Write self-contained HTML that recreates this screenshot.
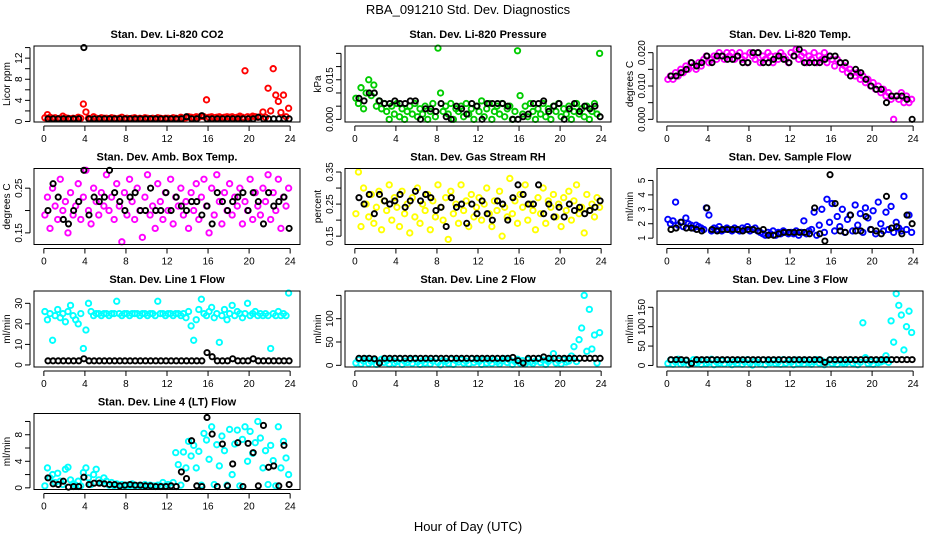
<!DOCTYPE html>
<html><head><meta charset="utf-8"><style>
html,body{margin:0;padding:0;background:#fff}
svg{display:block;font-family:"Liberation Sans",sans-serif}
</style></head><body>
<svg id="chart" width="936" height="540" viewBox="0 0 936 540">
<text x="468" y="14" text-anchor="middle" font-size="13">RBA_091210  Std. Dev. Diagnostics</text>
<text x="468" y="531" text-anchor="middle" font-size="13">Hour of Day (UTC)</text>
</svg>
<script>
const xTicks = [0,4,8,12,16,20,24];
const co2Color = [0.7,1.3,0.8,0.6,0.7,0.5,0.6,1.0,0.7,0.6,0.5,0.6, 0.5,0.8,0.6,3.3,1.8,0.6,0.5,0.9,0.6,0.5,0.7,0.6, 0.6,0.5,0.7,0.6,0.5,0.6,0.8,0.5,0.6,0.5,0.6,0.7, 0.5,0.6,0.5,0.7,0.6,0.5,0.6,0.5,0.7,0.6,0.5,0.6, 0.6,0.5,0.7,0.6,0.5,0.8,0.6,0.7,0.9,0.8,0.7,0.9, 0.8,1.0,0.9,4.1,0.8,0.9,0.7,0.8,0.9,0.7,0.8,0.9, 0.8,0.9,0.7,0.8,1.0,0.8,9.6,0.9,0.8,1.0,0.9,0.8, 0.9,1.8,0.8,6.3,2.0,10.0,5.0,3.8,1.7,5.0,0.9,2.5];
const co2Black = [0.5,0.5,0.5,0.5,0.5,0.5,0.5,14,0.5,0.5,0.5,0.5, 0.5,0.5,0.5,0.5,0.5,0.5,0.5,0.5,0.5,0.5,0.5,0.5, 0.5,0.5,0.5,0.9,0.5,0.5,1.1,0.5,0.5,0.5,0.5,0.5, 0.5,0.5,0.5,0.5,0.5,0.8,0.5,0.5,0.5,0.5,0.5,0.5];
const presColor = [.008,.006,.012,.004,.010,.015,.009,.013,.005,.007,.004,.006, .003,.000,.005,.002,.006,.001,.004,.000,.003,.005,.002,.006, .001,.004,.002,.005,.000,.003,.006,.001,.027,.010,.003,.005, .002,.006,.000,.004,.003,.005,.001,.006,.002,.004,.000,.005, .003,.007,.001,.004,.006,.000,.003,.005,.002,.006,.001,.004, .005,.000,.003,.026,.009,.002,.005,.001,.006,.003,.000,.004, .002,.006,.001,.004,.000,.005,.003,.006,.001,.004,.002,.005, .000,.003,.006,.002,.004,.001,.005,.000,.003,.006,.002,.025];
const presBlack = [.008,.007,.010,.010,.007,.006,.006,.007,.006,.006,.007,.007, .000,.004,.004,.003,.006,.001,.000,.005,.004,.002,.006,.005, .000,.006,.006,.006,.006,.005,.000,.000,.001,.002,.006,.006, .007,.003,.005,.006,.000,.004,.006,.003,.005,.004,.005,.001];
const tempColor = [.012,.013,.012,.014,.013,.015,.014,.016,.015,.017,.016,.015, .017,.016,.018,.019,.017,.018,.019,.018,.020,.019,.018,.020, .019,.020,.018,.019,.020,.018,.019,.017,.020,.019,.018,.020, .017,.019,.018,.020,.019,.017,.019,.018,.020,.019,.018,.017, .020,.019,.021,.018,.019,.020,.017,.019,.018,.020,.017,.019, .018,.020,.017,.019,.018,.016,.018,.017,.015,.016,.014,.015, .014,.013,.014,.012,.013,.011,.012,.010,.011,.009,.010,.008, .009,.007,.008,.006,.000,.007,.006,.008,.005,.007,.005,.006];
const tempBlack = [.013,.013,.014,.015,.017,.016,.017,.019,.017,.019,.019,.018, .018,.019,.017,.017,.020,.020,.017,.017,.018,.019,.018,.017, .019,.021,.017,.017,.017,.017,.018,.019,.019,.017,.017,.013, .015,.014,.012,.010,.009,.009,.005,.007,.007,.007,.006,.000];
const ambColor = [.19,.23,.16,.25,.21,.18,.27,.20,.22,.15,.24,.19, .21,.26,.18,.23,.29,.20,.17,.25,.22,.19,.24,.21, .28,.20,.23,.18,.26,.21,.13,.24,.19,.27,.22,.18, .25,.20,.14,.23,.28,.19,.21,.16,.26,.22,.18,.24, .20,.27,.17,.23,.21,.25,.19,.22,.16,.24,.20,.26, .18,.23,.27,.21,.15,.25,.19,.28,.22,.17,.24,.20, .26,.19,.23,.21,.25,.17,.22,.20,.27,.18,.24,.21, .19,.25,.22,.28,.18,.24,.20,.27,.16,.23,.21,.25];
const ambBlack = [.20,.26,.23,.18,.17,.20,.22,.29,.19,.23,.22,.23, .29,.24,.22,.20,.23,.24,.20,.20,.25,.20,.20,.24, .20,.23,.21,.20,.22,.22,.19,.21,.17,.24,.22,.20, .22,.23,.24,.20,.24,.22,.17,.24,.21,.22,.23,.16];
const rhColor = [.22,.35,.18,.30,.25,.21,.28,.19,.24,.29,.17,.26, .23,.31,.20,.27,.24,.18,.29,.22,.25,.16,.27,.21, .30,.19,.25,.23,.28,.17,.26,.21,.31,.24,.20,.27, .14,.29,.22,.25,.19,.31,.23,.26,.18,.28,.21,.24, .27,.20,.25,.30,.22,.18,.26,.23,.29,.15,.24,.21, .33,.22,.26,.19,.28,.24,.31,.20,.25,.23,.17,.27, .22,.30,.19,.26,.24,.28,.21,.25,.18,.27,.23,.29, .20,.26,.31,.22,.24,.16,.28,.23,.25,.21,.27,.24];
const rhBlack = [.27,.25,.28,.22,.28,.26,.25,.26,.28,.24,.26,.29, .26,.28,.27,.23,.24,.18,.27,.24,.25,.19,.25,.22, .26,.22,.20,.26,.25,.20,.27,.31,.28,.25,.25,.31, .22,.25,.21,.24,.21,.25,.23,.24,.22,.23,.24,.26];
const flowColor = [2.3,2.0,2.2,3.5,1.9,2.1,1.8,2.4,2.0,1.9,1.7,1.9, 1.8,1.7,1.6,3.1,2.6,1.5,1.7,1.6,1.8,1.5,1.6,1.7, 1.6,1.5,1.7,1.6,1.5,1.7,1.6,1.8,1.5,1.6,1.7,1.5, 1.4,1.3,1.2,1.4,1.3,1.5,1.2,1.4,1.3,1.5,1.4,1.3, 1.4,1.3,1.5,1.2,1.4,2.2,1.3,1.5,1.6,2.8,1.2,1.9, 3.0,1.4,3.7,2.1,3.4,1.5,2.5,1.8,3.0,1.4,2.3,2.6, 1.5,3.3,1.9,2.7,1.4,3.1,2.4,1.6,2.9,1.3,3.5,2.0, 1.5,2.8,1.6,3.2,1.4,2.1,1.7,1.5,3.9,1.6,2.6,1.4];
const flowBlack = [1.6,1.7,2.1,1.7,1.7,1.6,1.5,3.1,1.6,1.5,1.6,1.6, 1.6,1.6,1.5,1.6,1.6,1.5,1.6,1.2,1.2,1.3,1.4,1.4, 1.4,1.4,1.4,1.3,3.1,1.3,0.8,5.4,3.4,1.5,1.4,2.6, 1.5,1.5,2.5,1.6,1.5,1.3,3.9,1.7,1.8,1.3,2.6,2.0];
const line1Color = [26,22,25,12,24,27,23,25,21,26,29,24, 22,20,25,8,17,30,26,24,25,25,24,25, 25,24,25,25,31,25,24,25,25,24,25,25, 25,24,25,25,24,25,25,24,31,25,25,24, 25,25,24,25,25,24,25,23,26,19,12,22, 27,32,25,24,26,28,23,25,11,24,27,22, 25,29,24,26,25,23,25,30,24,25,26,24, 25,24,25,24,8,25,24,26,24,25,24,35];
const line1Black = [2,2,2,2,2,2,2,3,2,2,2,2, 2,2,2,2,2,2,2,2,2,2,2,2, 2,2,2,2,2,2,2,6,4,2,2,2, 3,2,2,2,3,2,2,2,2,2,2,2];
const line2Color = [5,12,3,9,14,4,8,11,2,7,13,6, 10,3,12,5,8,14,2,9,6,11,4,13, 7,2,10,5,12,3,9,14,6,1,11,8, 4,13,2,10,7,12,5,9,3,14,6,11, 8,2,13,5,10,4,12,7,3,9,14,6, 11,2,8,13,5,10,3,12,7,4,9,14, 6,11,2,8,13,25,5,10,3,12,7,9, 20,40,8,55,80,150,30,120,35,65,5,70];
const line2Black = [15,15,15,14,5,15,15,15,15,15,15,15, 15,15,15,15,15,15,15,15,15,15,15,15, 15,15,15,15,15,15,17,10,5,15,15,15, 18,15,15,15,15,15,15,15,15,15,15,15];
const line3Color = [5,14,3,9,16,4,8,12,2,7,15,6, 10,3,13,5,8,16,2,9,6,12,4,14, 7,2,10,5,13,3,9,15,6,1,12,8, 4,14,2,10,7,13,5,9,3,15,6,12, 8,2,14,5,10,4,13,7,3,9,15,6, 12,2,8,14,5,10,3,13,7,4,9,15, 6,12,2,8,110,20,5,10,3,13,7,9, 12,25,8,115,60,185,155,130,40,100,140,85];
const line3Black = [15,15,15,14,5,15,15,15,15,15,15,15, 15,15,15,15,15,15,15,15,15,15,15,15, 15,15,15,15,15,15,8,15,15,15,15,15, 15,15,15,15,15,15,15,15,15,15,15,15];
const line4Color = [0.3,3.0,1.5,2.0,0.8,2.2,1.0,0.5,2.8,3.1,1.2,0.6, 0.4,1.0,0.3,2.3,3.0,1.5,0.5,2.0,2.8,1.2,0.8,1.5, 1.0,0.4,0.8,0.3,0.6,0.3,0.5,0.3,0.4,0.3,0.6,0.3, 0.3,0.4,0.3,0.5,0.3,0.4,0.3,0.3,0.4,0.3,0.8,0.3, 0.5,0.3,0.8,5.3,3.5,0.4,5.4,3.0,7.0,4.8,6.4,3.0, 5.5,0.4,8.2,7.2,4.3,9.2,0.5,6.5,3.3,7.8,5.6,0.4, 8.8,2.0,6.6,8.7,0.3,7.3,9.2,4.0,8.5,5.2,6.8,10.0, 7.5,3.0,5.6,0.5,6.4,4.1,0.3,9.2,3.0,7.0,4.5,2.0];
const line4Black = [1.5,0.6,0.5,1.0,0.1,0.2,0.2,1.6,0.5,0.7,0.7,0.6, 0.5,0.5,0.3,0.4,0.5,0.4,0.4,0.3,0.3,0.2,0.2,0.2, 0.3,0.2,2.4,1.4,7.1,0.3,0.2,10.6,8.1,0.2,6.6,0.3, 3.6,6.8,0.2,6.7,5.3,0.3,9.4,3.1,3.3,0.3,6.4,0.5];

const panels = [
 {name:'co2',title:'Stan. Dev. Li-820 CO2',yl:'Licor ppm',col:0,row:0,range:[-0.1,14.3],ticks:[0,2,4,6,8,10,12,14],labels:[0,4,8,12],fmt:v=>String(v),color:'#ff0000',c:co2Color,b:co2Black},
 {name:'pressure',title:'Stan. Dev. Li-820 Pressure',yl:'kPa',col:1,row:0,range:[-0.001,0.0278],ticks:[0,.005,.01,.015,.02,.025],labels:[0,.015],fmt:v=>v.toFixed(3),color:'#00cc00',c:presColor,b:presBlack},
 {name:'li820-temp',title:'Stan. Dev. Li-820 Temp.',yl:'degrees C',col:2,row:0,range:[-0.0008,0.022],ticks:[0,.005,.01,.015,.02],labels:[0,.01,.02],fmt:v=>v.toFixed(3),color:'#ff00ff',c:tempColor,b:tempBlack},
 {name:'amb-box-temp',title:'Stan. Dev. Amb. Box Temp.',yl:'degrees C',col:0,row:1,range:[0.124,0.294],ticks:[.15,.2,.25],labels:[.15,.25],fmt:v=>v.toFixed(2),color:'#ff00ff',c:ambColor,b:ambBlack},
 {name:'gas-stream-rh',title:'Stan. Dev. Gas Stream RH',yl:'percent',col:1,row:1,range:[0.124,0.361],ticks:[.15,.2,.25,.3,.35],labels:[.15,.25,.35],fmt:v=>v.toFixed(2),color:'#ffff00',c:rhColor,b:rhBlack},
 {name:'sample-flow',title:'Stan. Dev. Sample Flow',yl:'ml/min',col:2,row:1,range:[0.56,5.83],ticks:[1,2,3,4,5],labels:[1,2,3,4,5],fmt:v=>String(v),color:'#0000ff',c:flowColor,b:flowBlack},
 {name:'line1-flow',title:'Stan. Dev. Line 1 Flow',yl:'ml/min',col:0,row:2,range:[-1,36],ticks:[0,10,20,30],labels:[0,10,20,30],fmt:v=>String(v),color:'#00ffff',c:line1Color,b:line1Black},
 {name:'line2-flow',title:'Stan. Dev. Line 2 Flow',yl:'ml/min',col:1,row:2,range:[-3.6,159.4],ticks:[0,50,100,150],labels:[0,50,100],fmt:v=>String(v),color:'#00ffff',c:line2Color,b:line2Black},
 {name:'line3-flow',title:'Stan. Dev. Line 3 Flow',yl:'ml/min',col:2,row:2,range:[-4,192],ticks:[0,50,100,150],labels:[0,50,100,150],fmt:v=>String(v),color:'#00ffff',c:line3Color,b:line3Black},
 {name:'line4-flow',title:'Stan. Dev. Line 4 (LT) Flow',yl:'ml/min',col:0,row:3,range:[-0.25,11.2],ticks:[0,2,4,6,8,10],labels:[0,4,8],fmt:v=>String(v),color:'#00ffff',c:line4Color,b:line4Black}
];
const colLeft=[34,345,657], rowTop=[46,168.5,291,413.5], W=266, H=76;
const NS='http://www.w3.org/2000/svg';
const svg=document.getElementById('chart');
function mk(tag,attrs,parent){const e=document.createElementNS(NS,tag);for(const k in attrs)e.setAttribute(k,attrs[k]);parent.appendChild(e);return e;}
panels.forEach(p=>{
  const L=colLeft[p.col], T=rowTop[p.row], B=T+H;
  const g=mk('g',{},svg);
  
  
  const xs=h=>L+(h+0.96)/25.92*W;
  const ys=v=>B-(v-p.range[0])/(p.range[1]-p.range[0])*H;
  const t=mk('text',{x:L+W/2,y:T-8,'text-anchor':'middle','font-size':'11','font-weight':'bold'},g);
  t.textContent=p.title;
  
  
  const yl=mk('text',{x:0,y:0,'text-anchor':'middle','font-size':'10',transform:`translate(${L-24},${T+H/2}) rotate(-90)`},g);
  yl.textContent=p.yl;
  
  
  const pg=mk('g',{fill:'none','stroke-width':'1.9'},g);
  
  
  p.c.forEach((v,i)=>{const h=0.1+i*0.25;
    const c=mk('circle',{cx:xs(h),cy:ys(v),r:2.7,stroke:p.color},pg);
    
    });
  p.b.forEach((v,i)=>{const h=0.4+i*0.5;
    const c=mk('circle',{cx:xs(h),cy:ys(v),r:2.6,stroke:'#000'},pg);
    
    });
  const box=mk('rect',{x:L,y:T,width:W,height:H,fill:'none',stroke:'#000','stroke-width':'1'},g);
  
  
  const xa=mk('g',{},g);
  
  
  mk('line',{x1:xs(0),x2:xs(24),y1:B+4,y2:B+4,stroke:'#000'},xa);
  xTicks.forEach(h=>{mk('line',{x1:xs(h),x2:xs(h),y1:B+4,y2:B+9,stroke:'#000'},xa);
    const tl=mk('text',{x:xs(h),y:B+20,'text-anchor':'middle','font-size':'10'},xa);tl.textContent=h;});
  const ya=mk('g',{},g);
  
  
  const y0=ys(p.ticks[0]), y1=ys(p.ticks[p.ticks.length-1]);
  mk('line',{x1:L-4,x2:L-4,y1:y0,y2:y1,stroke:'#000'},ya);
  p.ticks.forEach(v=>{mk('line',{x1:L-9,x2:L-4,y1:ys(v),y2:ys(v),stroke:'#000'},ya);});
  p.labels.forEach(v=>{const tl=mk('text',{x:0,y:0,'text-anchor':'middle','font-size':'10',transform:`translate(${L-12},${ys(v)}) rotate(-90)`},ya);tl.textContent=p.fmt(v);});
});
</script>
</body></html>
